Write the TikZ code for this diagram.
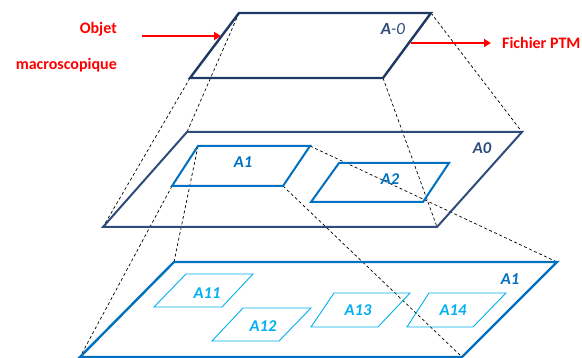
\documentclass[tikz,border=0pt]{standalone}
\usepackage{fontspec}
\setmainfont{Carlito}
\usetikzlibrary{arrows.meta}
\definecolor{navy}{HTML}{203864}
\definecolor{navyb}{HTML}{2F4B7C}
\definecolor{midblue}{HTML}{0070C0}
\definecolor{lightblue}{HTML}{00B0F0}
\definecolor{redarrow}{HTML}{FF0000}
\begin{document}
\begin{tikzpicture}[x=1pt,y=-1pt,
  proj/.style={draw=black,line width=0.7pt,dash pattern=on 3pt off 2.5pt},
  topplane/.style={draw=navy,line width=2.4pt,line join=miter},
  midplane/.style={draw=navyb,line width=2pt,line join=miter},
  midsub/.style={draw=midblue,line width=2pt,line join=miter},
  botplane/.style={draw=midblue,line width=2.4pt,line join=miter},
  botsub/.style={draw=lightblue,line width=0.9pt},
  redarr/.style={draw=redarrow,line width=2.2pt,-{Triangle[length=7pt,width=8pt]}},
  redtxt/.style={text=redarrow,font=\fontsize{16}{18}\selectfont\bfseries,inner sep=0pt},
  lbl/.style={font=\fontsize{16.5}{18}\selectfont\bfseries\itshape,inner sep=0pt}
]
\useasboundingbox (0,0) rectangle (582,358);
% top plane A-0
\coordinate (t1) at (239,13);
\coordinate (t2) at (431,13);
\coordinate (t3) at (383,78);
\coordinate (t4) at (190,78);
% middle plane A0
\coordinate (m1) at (187,132);
\coordinate (m2) at (522,132);
\coordinate (m3) at (437,227);
\coordinate (m4) at (103,227);
% A1 in middle
\coordinate (a1) at (198,146);
\coordinate (a2) at (310,146);
\coordinate (a3) at (283,186);
\coordinate (a4) at (172,186);
% A2 in middle
\coordinate (b1) at (339,163);
\coordinate (b2) at (449,163);
\coordinate (b3) at (423,202);
\coordinate (b4) at (311,202);
% bottom plane A1
\coordinate (p1) at (174,262);
\coordinate (p2) at (557,262);
\coordinate (p3) at (462,357);
\coordinate (p4) at (80,357);
% A11..A14
\coordinate (c1) at (186,274); \coordinate (c2) at (253,274);
\coordinate (c3) at (222,307); \coordinate (c4) at (154,307);
\coordinate (d1) at (243,308); \coordinate (d2) at (311,308);
\coordinate (d3) at (279,341); \coordinate (d4) at (212,341);
\coordinate (e1) at (334,293); \coordinate (e2) at (410,293);
\coordinate (e3) at (378,327); \coordinate (e4) at (311,327);
\coordinate (f1) at (429,293); \coordinate (f2) at (506,293);
\coordinate (f3) at (473,327); \coordinate (f4) at (407,327);

% projection lines
\draw[proj] (t1) -- (m1);
\draw[proj] (t2) -- (m2);
\draw[proj] (t3) -- (m3);
\draw[proj] (t4) -- (m4);
\draw[proj] (a1) -- (p1);
\draw[proj] (a2) -- (p2);
\draw[proj] (a3) -- (p3);
\draw[proj] (a4) -- (p4);

% planes
\draw[topplane] (t1) -- (t2) -- (t3) -- (t4) -- cycle;
\draw[midplane] (m1) -- (m2) -- (m3) -- (m4) -- cycle;
\draw[midsub] (a1) -- (a2) -- (a3) -- (a4) -- cycle;
\draw[midsub] (b1) -- (b2) -- (b3) -- (b4) -- cycle;
\draw[botplane] (p1) -- (p2) -- (p3) -- (p4) -- cycle;
\draw[botsub] (c1) -- (c2) -- (c3) -- (c4) -- cycle;
\draw[botsub] (d1) -- (d2) -- (d3) -- (d4) -- cycle;
\draw[botsub] (e1) -- (e2) -- (e3) -- (e4) -- cycle;
\draw[botsub] (f1) -- (f2) -- (f3) -- (f4) -- cycle;

% labels
\node[lbl,text=navyb,font=\fontsize{17}{19}\selectfont\itshape] (lA-0) at (393,29) {\textbf{A}-0};
\node[lbl,text=navyb] (lA0) at (482,148) {A0};
\node[lbl,text=midblue] (lA1m) at (243,162) {A1};
\node[lbl,text=midblue] (lA2) at (390,179) {A2};
\node[lbl,text=midblue] (lA1b) at (510,279) {A1};
\node[lbl,text=lightblue] (lA11) at (207,293) {A11};
\node[lbl,text=lightblue] (lA12) at (263,326) {A12};
\node[lbl,text=lightblue] (lA13) at (358,310) {A13};
\node[lbl,text=lightblue] (lA14) at (453,310) {A14};

% red annotations
\node[redtxt,anchor=east] (objet) at (117,29) {Objet};
\node[redtxt,anchor=east] (macro) at (117,65) {macroscopique};
\node[redtxt,anchor=west] (ptm) at (502,43) {Fichier PTM};
\coordinate (oa) at (142,36);
\coordinate (ob) at (221,36);
\coordinate (fa) at (411,43);
\coordinate (fb) at (491,43);
\draw[redarr] (oa) -- (ob);
\draw[redarr] (fa) -- (fb);
\end{tikzpicture}
\end{document}
